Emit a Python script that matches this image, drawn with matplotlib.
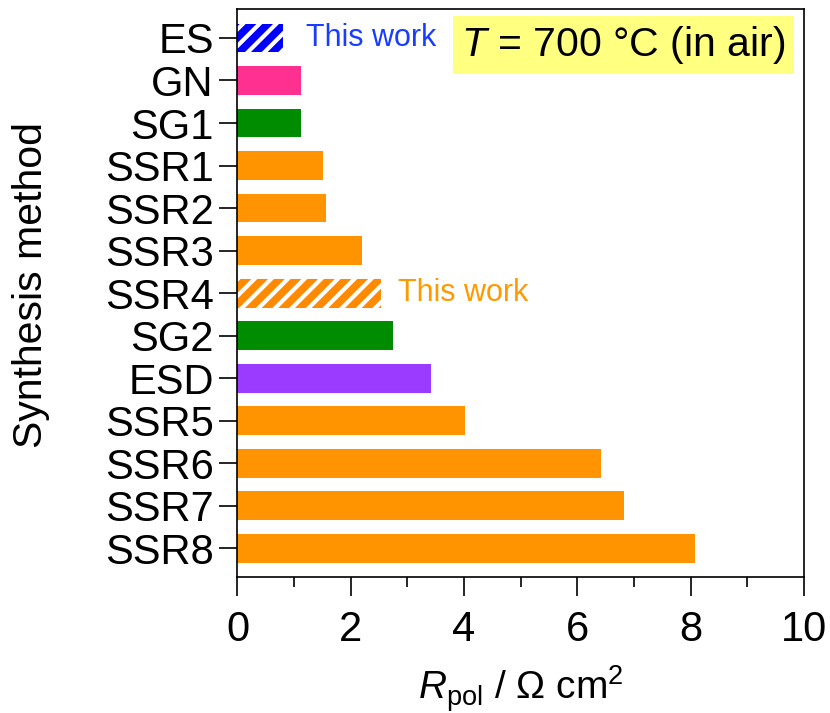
import numpy as np
import matplotlib
matplotlib.use("Agg")
import matplotlib.pyplot as plt

plt.rcParams["font.family"] = ["Liberation Sans", "DejaVu Sans"]
plt.rcParams["mathtext.fontset"] = "custom"
plt.rcParams["mathtext.rm"] = "Liberation Sans"
plt.rcParams["mathtext.it"] = "Liberation Sans:italic"
plt.rcParams["hatch.linewidth"] = 3.0

# --- data -----------------------------------------------------------------
methods = ["ES", "GN", "SG1", "SSR1", "SSR2", "SSR3", "SSR4",
           "SG2", "ESD", "SSR5", "SSR6", "SSR7", "SSR8"]
rpol = [0.81, 1.12, 1.12, 1.51, 1.56, 2.20, 2.53,
        2.74, 3.42, 4.01, 6.41, 6.83, 8.07]
colors = ["#0000FF", "#FF3090", "#008C00", "#FF9400", "#FF9400", "#FF9400",
          "#FF8A00", "#008C00", "#9B3BFF", "#FF9400", "#FF9400", "#FF9400",
          "#FF9400"]
this_work = ["ES", "SSR4"]
xticks = [0, 2, 4, 6, 8, 10]

fig = plt.figure(figsize=(8.3, 7.13), dpi=100)
ax = fig.add_axes([0.2861, 0.1912, 0.6826, 0.7955])

y = np.arange(len(methods))
for yi, m, v, c in zip(y, methods, rpol, colors):
    if m in this_work:
        ax.barh(yi, v, height=0.68, color=c, edgecolor="white",
                hatch="//", lw=0)
    else:
        ax.barh(yi, v, height=0.68, color=c, lw=0)

# "This work" labels next to the hatched bars
ax.text(rpol[0] + 0.4, 0, "This work", color="#1A3CFF", fontsize=22,
        va="center", ha="left")
ax.text(rpol[6] + 0.3, 6, "This work", color="#FF9900", fontsize=22,
        va="center", ha="left")

ax.text(0.968, 0.937, r"$\mathit{T}$ = 700 °C (in air)", transform=ax.transAxes,
        fontsize=29.5, ha="right", va="center",
        bbox=dict(boxstyle="square,pad=0.2", fc="#FFFF80", ec="none"))

ax.set_xlim(0, 10)
ax.set_ylim(len(methods) - 1 + 0.67, -0.67)
ax.set_yticks(y)
ax.set_yticklabels(methods)
ax.set_xticks(xticks)
ax.set_xticks(np.arange(1, 10, 2), minor=True)

ax.tick_params(axis="both", which="major", labelsize=30, width=1.2)
ax.tick_params(axis="y", length=13, pad=4)
ax.tick_params(axis="x", which="major", length=14, pad=10)
ax.tick_params(axis="x", which="minor", length=7, width=1.2)
for s in ax.spines.values():
    s.set_linewidth(1.2)

ax.set_xlabel(r"$\mathit{R}_{\mathrm{pol}}$ / Ω cm$^2$", fontsize=28,
              labelpad=10)
ax.set_ylabel("Synthesis method", fontsize=29.5)
ax.yaxis.set_label_coords(-0.33, 0.515)

fig.savefig("out.png", dpi=100)
